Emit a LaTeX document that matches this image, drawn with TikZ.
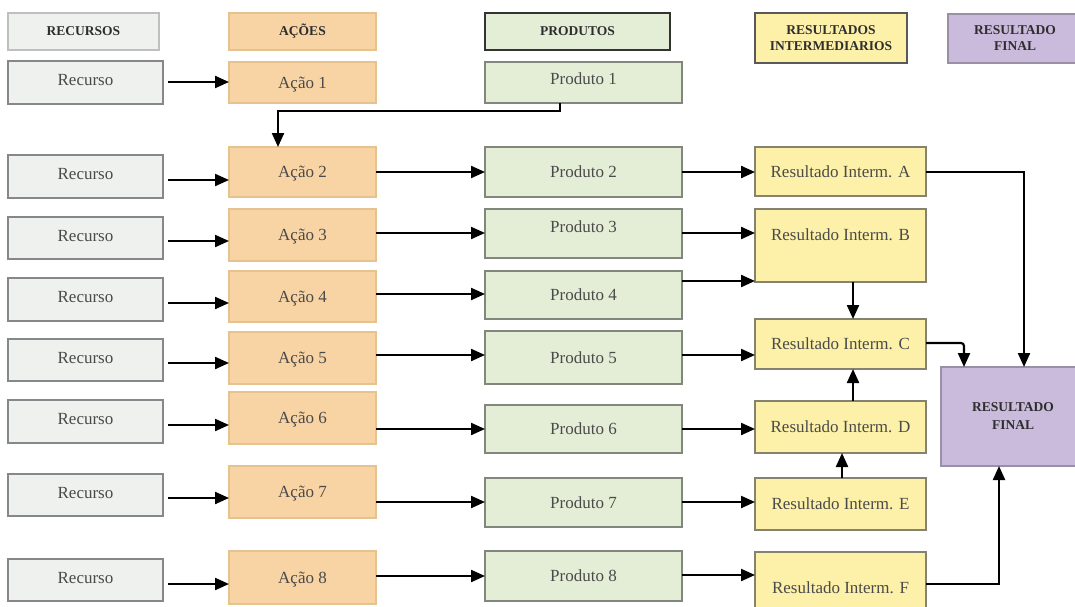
\documentclass[tikz,border=0pt]{standalone}
\usepackage{fontspec}
\setmainfont{Liberation Serif}
\usetikzlibrary{arrows.meta}

\definecolor{recfill}{HTML}{EFF1EF}
\definecolor{recline}{HTML}{85878A}
\definecolor{acfill}{HTML}{F8D4A4}
\definecolor{acline}{HTML}{E6C28E}
\definecolor{prfill}{HTML}{E4EED7}
\definecolor{prline}{HTML}{82877D}
\definecolor{rifill}{HTML}{FDF1A9}
\definecolor{riline}{HTML}{858370}
\definecolor{rffill}{HTML}{CABADB}
\definecolor{rfline}{HTML}{9990A5}
\definecolor{txt}{HTML}{4A4A4A}
\definecolor{headtxt}{HTML}{2E2E2E}

% box from (x1,y1) to (x2,y2), y measured downwards
\newcommand\bx[7]{%
  \node[#2, minimum width={(#5)-(#3)}, minimum height={(#6)-(#4)}]
    (#1) at ({((#3)+(#5))/2},{((#4)+(#6))/2}) {#7};}

\begin{document}
\begin{tikzpicture}[x=1pt,y=-1pt,
  box/.style={draw, line width=1.5pt, inner sep=0pt, outer sep=0pt,
    text height=12.5pt, text depth=1.3pt,
    font=\fontsize{17}{20}\selectfont, text=txt},
  rec/.style={box, fill=recfill, draw=recline, text height=10pt, text depth=4pt},
  acao/.style={box, fill=acfill, draw=acline},
  prod/.style={box, fill=prfill, draw=prline},
  ri/.style={box, fill=rifill, draw=riline},
  head/.style={font=\bfseries\fontsize{13.5}{16}\selectfont, align=center,
    text=headtxt, text height=, text depth=},
  rf/.style={box, fill=rffill, draw=rfline, head},
  arr/.style={line width=2.2pt, -{Triangle[length=14pt,width=12pt]}},
]
\useasboundingbox (0,0) rectangle (1075,607);
\clip (0,0) rectangle (1075,607);

% column headers
\bx{hrec}{rec, head, draw=black!25}{8}{13}{159}{50}{RECURSOS}
\bx{hac}{acao, head}{229}{13}{376}{50}{AÇÕES}
\bx{hprod}{prod, head, draw=black!80}{485}{13}{670}{50}{PRODUTOS}
\bx{hri}{ri, head, draw=black!65}{755}{13}{907}{63}{RESULTADOS\\INTERMEDIARIOS}
\bx{hrf}{rf}{948}{14}{1082}{63}{RESULTADO\\FINAL}

% resources
\bx{r1}{rec}{8}{61}{163}{104}{Recurso}
\bx{r2}{rec}{8}{155}{163}{198}{Recurso}
\bx{r3}{rec}{8}{217}{163}{259}{Recurso}
\bx{r4}{rec}{8}{278}{163}{321}{Recurso}
\bx{r5}{rec}{8}{339}{163}{381}{Recurso}
\bx{r6}{rec}{8}{400}{163}{443}{Recurso}
\bx{r7}{rec}{8}{474}{163}{516}{Recurso}
\bx{r8}{rec}{8}{559}{163}{601}{Recurso}

% actions
\bx{a1}{acao}{229}{62}{376}{103}{Ação 1}
\bx{a2}{acao}{229}{147}{376}{197}{Ação 2}
\bx{a3}{acao}{229}{209}{376}{261}{Ação 3}
\bx{a4}{acao}{229}{271}{376}{322}{Ação 4}
\bx{a5}{acao}{229}{332}{376}{384}{Ação 5}
\bx{a6}{acao}{229}{392}{376}{444}{Ação 6}
\bx{a7}{acao}{229}{466}{376}{518}{Ação 7}
\bx{a8}{acao}{229}{551}{376}{604}{Ação 8}

% products
\bx{p1}{prod, text height=10pt, text depth=5.2pt}{485}{62}{682}{103}{Produto 1}
\bx{p2}{prod}{485}{147}{682}{197}{Produto 2}
\bx{p3}{prod, text height=10pt, text depth=12.4pt}{485}{209}{682}{258}{Produto 3}
\bx{p4}{prod}{485}{271}{682}{319}{Produto 4}
\bx{p5}{prod}{485}{331}{682}{384}{Produto 5}
\bx{p6}{prod}{485}{405}{682}{453}{Produto 6}
\bx{p7}{prod}{485}{478}{682}{527}{Produto 7}
\bx{p8}{prod}{485}{551}{682}{601}{Produto 8}

% intermediate results
\bx{ria}{ri}{755}{147}{926}{196}{Resultado Interm. A}
\bx{rib}{ri, text height=10pt, text depth=19.8pt}{755}{209}{926}{282}{Resultado Interm. B}
\bx{ric}{ri}{755}{319}{926}{369}{Resultado Interm. C}
\bx{rid}{ri}{755}{401}{926}{453}{Resultado Interm. D}
\bx{rie}{ri}{755}{478}{926}{530}{Resultado Interm. E}
\bx{rif}{ri}{755}{552}{926}{624}{Resultado Interm. F}

% final result
\bx{rf}{rf}{941}{367}{1085}{466}{RESULTADO\\[2pt]FINAL}

% resource -> action
\foreach \i/\y in {1/82, 2/180, 3/241, 4/303, 5/363, 6/425, 7/498, 8/584}
  \draw[arr] ([xshift=5]r\i.east |- 0,\y) -- (a\i.west |- 0,\y);

% action -> product
\foreach \i/\y in {2/172, 3/233, 4/294, 5/355, 6/429, 7/502, 8/576}
  \draw[arr] (a\i.east |- 0,\y) -- (p\i.west |- 0,\y);

% product 1 feeds action 2
\draw[arr] (p1.south -| 560,0) |- (278,111) -- (a2.north -| 278,0);

% product -> intermediate result
\draw[arr] (p2.east |- 0,172) -- (ria.west |- 0,172);
\draw[arr] (p3.east |- 0,233) -- (rib.west |- 0,233);
\draw[arr] (p4.east |- 0,281) -- (rib.west |- 0,281);
\draw[arr] (p5.east |- 0,355) -- (ric.west |- 0,355);
\draw[arr] (p6.east |- 0,429) -- (rid.west |- 0,429);
\draw[arr] (p7.east |- 0,502) -- (rie.west |- 0,502);
\draw[arr] (p8.east |- 0,575) -- (rif.west |- 0,575);

% links between intermediate results
\draw[arr] (rib.south -| 853,0) -- (ric.north -| 853,0);
\draw[arr] (rid.north -| 853,0) -- (ric.south -| 853,0);
\draw[arr] (rie.north -| 842,0) -- (rid.south -| 842,0);

% intermediate results -> final result
\draw[arr] (ria.east |- 0,172) -| (rf.north -| 1024,0);
\draw[arr, rounded corners=3pt] (ric.east |- 0,343) -| (rf.north -| 964,0);
\draw[arr] (rif.east |- 0,584) -| (rf.south -| 999,0);
\end{tikzpicture}
\end{document}
